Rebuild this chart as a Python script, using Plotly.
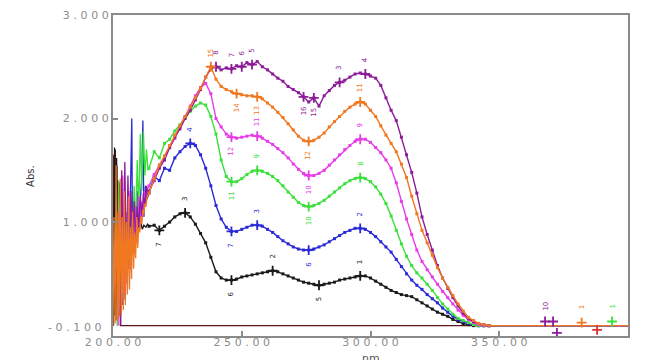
import plotly.graph_objects as go

# ---------------- data ----------------
# common wavelength grid for the smooth part of each spectrum (nm)
WL_BODY = [214, 216, 218, 220, 222, 224, 226, 228, 230, 232,
           234, 236, 238, 240, 242, 244, 246, 248, 250, 252,
           254, 256, 258, 260, 262, 264, 266, 268, 270, 272,
           274, 276, 278, 280, 282, 284, 286, 288, 290, 292,
           294, 296, 298, 300, 302, 304, 306, 308, 310, 312,
           314, 316, 318, 320, 322, 324, 326, 328, 330, 332,
           334, 336, 338, 340, 342, 344, 346]

ABS_BLACK = [0.96, 0.97, 0.92, 0.96, 1.00, 1.05, 1.08, 1.09, 1.05, 0.98,
             0.89, 0.80, 0.66, 0.52, 0.46, 0.44, 0.44, 0.45, 0.47, 0.48,
             0.49, 0.50, 0.51, 0.52, 0.53, 0.52, 0.50, 0.48, 0.46, 0.44,
             0.42, 0.41, 0.40, 0.39, 0.40, 0.41, 0.42, 0.44, 0.45, 0.46,
             0.47, 0.48, 0.48, 0.46, 0.43, 0.40, 0.37, 0.34, 0.32, 0.30,
             0.29, 0.28, 0.25, 0.22, 0.19, 0.16, 0.13, 0.11, 0.09, 0.06,
             0.04, 0.02, 0.01, 0.00, 0.00, 0.00, 0.00]

ABS_BLUE = [1.28, 1.44, 1.40, 1.52, 1.50, 1.62, 1.68, 1.73, 1.76, 1.74,
            1.65, 1.52, 1.35, 1.16, 1.03, 0.95, 0.91, 0.91, 0.93, 0.95,
            0.97, 0.97, 0.96, 0.93, 0.90, 0.86, 0.82, 0.79, 0.76, 0.74,
            0.73, 0.73, 0.74, 0.76, 0.78, 0.81, 0.84, 0.87, 0.90, 0.92,
            0.94, 0.94, 0.93, 0.90, 0.86, 0.81, 0.76, 0.71, 0.64, 0.57,
            0.50, 0.44, 0.39, 0.35, 0.30, 0.26, 0.22, 0.17, 0.13, 0.09,
            0.06, 0.04, 0.02, 0.01, 0.00, 0.00, 0.00]

ABS_GREEN = [1.52, 1.68, 1.62, 1.76, 1.80, 1.88, 1.94, 2.01, 2.07, 2.12,
             2.15, 2.13, 2.02, 1.85, 1.60, 1.44, 1.39, 1.39, 1.42, 1.46,
             1.49, 1.50, 1.49, 1.47, 1.44, 1.40, 1.35, 1.29, 1.24, 1.19,
             1.16, 1.15, 1.16, 1.18, 1.21, 1.25, 1.29, 1.33, 1.37, 1.40,
             1.42, 1.43, 1.42, 1.39, 1.34, 1.27, 1.18, 1.06, 0.92, 0.79,
             0.67, 0.58, 0.51, 0.46, 0.40, 0.34, 0.27, 0.21, 0.16, 0.11,
             0.07, 0.05, 0.03, 0.01, 0.00, 0.00, 0.00]

ABS_MAGENTA = [1.35, 1.46, 1.55, 1.62, 1.72, 1.81, 1.92, 2.02, 2.12, 2.22,
               2.30, 2.34, 2.24, 2.00, 1.92, 1.85, 1.82, 1.81, 1.82, 1.83,
               1.84, 1.83, 1.81, 1.78, 1.75, 1.71, 1.67, 1.62, 1.56, 1.51,
               1.47, 1.45, 1.45, 1.47, 1.50, 1.55, 1.60, 1.65, 1.70, 1.74,
               1.78, 1.80, 1.80, 1.77, 1.72, 1.67, 1.60, 1.52, 1.38, 1.20,
               1.03, 0.88, 0.73, 0.62, 0.54, 0.47, 0.40, 0.33, 0.27, 0.21,
               0.15, 0.10, 0.06, 0.03, 0.01, 0.00, 0.00]

ABS_ORANGE = [1.28, 1.42, 1.55, 1.64, 1.74, 1.84, 1.93, 2.02, 2.11, 2.20,
              2.29, 2.40, 2.50, 2.38, 2.31, 2.28, 2.26, 2.24, 2.23, 2.22,
              2.22, 2.21, 2.19, 2.15, 2.11, 2.06, 2.01, 1.95, 1.89, 1.83,
              1.79, 1.78, 1.79, 1.82, 1.86, 1.92, 1.97, 2.02, 2.07, 2.11,
              2.14, 2.16, 2.14, 2.08, 2.02, 1.93, 1.84, 1.76, 1.68, 1.56,
              1.43, 1.25, 1.08, 0.92, 0.80, 0.68, 0.56, 0.46, 0.37, 0.29,
              0.21, 0.14, 0.08, 0.05, 0.02, 0.01, 0.00]

ABS_PURPLE = [1.30, 1.40, 1.52, 1.60, 1.72, 1.82, 1.90, 2.00, 2.08, 2.18,
              2.28, 2.40, 2.48, 2.50, 2.47, 2.49, 2.48, 2.51, 2.50, 2.54,
              2.52, 2.55, 2.50, 2.47, 2.43, 2.39, 2.36, 2.31, 2.28, 2.25,
              2.21, 2.16, 2.20, 2.12, 2.22, 2.27, 2.32, 2.35, 2.37, 2.40,
              2.43, 2.44, 2.43, 2.41, 2.39, 2.32, 2.20, 2.08, 1.98, 1.82,
              1.65, 1.48, 1.28, 1.05, 0.88, 0.73, 0.58, 0.46, 0.36, 0.27,
              0.19, 0.12, 0.07, 0.04, 0.02, 0.01, 0.00]

# noisy, saturated start of each scan (200-214 nm)
HEAD_BLACK_WL = [200.2, 200.6, 201.0, 201.4, 201.8, 202.4, 203.0, 203.6, 204.2, 204.8,
                 205.4, 206.0, 206.6, 207.2, 207.8, 208.4, 209.0, 209.6, 210.2, 210.8,
                 211.4, 212.0, 212.8, 213.4]
HEAD_BLACK_ABS = [0.00, 1.72, 0.20, 1.62, 0.30, 1.38, 0.40, 1.12, 0.25, 0.90,
                  0.50, 1.20, 0.62, 0.95, 0.80, 1.05, 0.86, 0.98, 0.92, 1.00,
                  0.93, 0.97, 0.95, 0.98]

HEAD_BLUE_WL = [203.8, 204.4, 205.0, 205.6, 206.2, 206.8, 207.3, 207.6, 208.2, 208.8,
                209.4, 210.0, 210.6, 211.2, 211.6, 212.0, 212.6, 213.2]
HEAD_BLUE_ABS = [0.20, 0.95, 0.40, 1.10, 0.55, 1.25, 2.00, 0.70, 1.15, 0.85,
                 1.30, 0.95, 1.20, 1.45, 1.98, 1.05, 1.35, 1.22]

HEAD_GREEN_WL = [201.6, 202.2, 202.8, 203.4, 204.0, 204.6, 205.2, 205.8, 206.4, 207.0,
                 207.6, 208.2, 208.8, 209.4, 210.0, 210.6, 211.2, 211.8, 212.4, 213.0,
                 213.6]
HEAD_GREEN_ABS = [0.00, 1.40, 0.20, 1.35, 0.30, 0.90, 0.45, 1.20, 0.60, 1.05,
                  0.80, 1.35, 0.95, 1.60, 1.10, 1.85, 1.30, 1.88, 1.45, 1.70,
                  1.50]

HEAD_MAGENTA_WL = [202.0, 202.6, 203.2, 203.8, 204.4, 205.0, 205.6, 206.2, 206.8, 207.4,
                   208.0, 208.6, 209.2, 209.8, 210.4, 211.0, 211.6, 212.2, 212.8, 213.4]
HEAD_MAGENTA_ABS = [0.00, 1.20, 0.15, 1.45, 0.30, 1.10, 0.40, 1.30, 0.55, 0.95,
                    0.70, 1.15, 0.80, 1.25, 0.95, 1.20, 1.05, 1.30, 1.18, 1.32]

HEAD_PURPLE_WL = [202.8, 203.4, 204.0, 204.6, 205.2, 205.8, 206.4, 207.0, 207.6, 208.2,
                  208.8, 209.4, 210.0, 210.6, 211.2, 211.8, 212.4, 213.0, 213.6]
HEAD_PURPLE_ABS = [0.00, 1.50, 0.35, 1.58, 0.50, 1.45, 0.60, 1.30, 0.75, 1.20,
                   0.85, 1.15, 0.95, 1.25, 1.05, 1.28, 1.15, 1.35, 1.25]

HEAD_ORANGE_WL = [200.0, 200.4, 200.8, 201.2, 201.6, 202.0, 202.4, 202.8, 203.2, 203.6,
                  204.0, 204.4, 204.8, 205.2, 205.6, 206.0, 206.4, 206.8, 207.2, 207.6,
                  208.0, 208.4, 208.8, 209.2, 209.6, 210.0, 210.4, 210.8, 211.2, 211.6,
                  212.0, 212.4, 212.8, 213.2]
HEAD_ORANGE_ABS = [0.00, 1.05, 0.02, 1.55, 0.05, 1.10, 0.08, 1.42, 0.10, 1.05,
                   0.15, 1.30, 0.20, 1.00, 0.30, 1.25, 0.35, 0.95, 0.45, 1.10,
                   0.55, 0.90, 0.65, 1.05, 0.75, 0.95, 0.90, 1.05, 0.98, 1.12,
                   1.08, 1.18, 1.15, 1.24]

# blank / baseline scan
BASE_WL = [200.0, 200.3, 200.6, 200.9, 201.2, 201.5, 201.8, 202.1, 202.4, 202.7,
           203.0, 204.0, 400.0]
BASE_ABS = [0.00, 1.65, 0.10, 1.70, 0.05, 1.55, 0.20, 1.40, 0.10, 0.90,
            0.00, 0.00, 0.00]

WL_TAIL = [350, 360, 370, 380, 390, 400]
ABS_TAIL = [0.00, 0.00, 0.00, 0.00, 0.00, 0.00]

# peak-pick marks: wavelength, index label, label side
PICK_BLACK = ([218, 228, 246, 262, 280, 296], ["7", "3", "6", "2", "5", "1"], ["b", "a", "b", "a", "b", "a"])
PICK_BLUE = ([230, 246, 256, 276, 296], ["4", "7", "3", "6", "2"], ["a", "b", "a", "b", "a"])
PICK_GREEN = ([246, 256, 276, 296], ["11", "9", "10", "8"], ["b", "a", "b", "a"])
PICK_MAGENTA = ([246, 256, 276, 296], ["12", "11", "10", "9"], ["b", "a", "b", "a"])
PICK_ORANGE = ([238, 248, 256, 276, 296], ["15", "14", "13", "12", "11"], ["a", "b", "b", "b", "a"])
PICK_PURPLE = ([240, 246, 250, 254, 274, 278, 288, 298],
               ["8", "7", "6", "5", "16", "15", "3", "4"],
               ["a", "a", "a", "a", "b", "b", "a", "a"])

# peak-pick marks found on the flat baseline (wavelength, absorbance)
BASE_PICK_WL = [367.8, 370.9, 372.4, 382.0, 388.0, 393.8]
BASE_PICK_ABS = [0.04, 0.04, -0.07, 0.03, -0.04, 0.04]
BASE_PICK_COLOR = ["#8c1c98", "#8c1c98", "#8c1c98", "#f07820", "#e03030", "#3ce03c"]
BASE_PICK_TXT = ["10", "", "", "1", "", "1"]

X_TICKS = [200, 250, 300, 350, 400]
X_TICK_TXT = ["200.00", "250.00", "300.00", "350.00", "400.00"]
Y_TICKS = [-0.1, 1.0, 2.0, 3.0]
Y_TICK_TXT = ["-0.100", "1.000", "2.000", "3.000"]

# ---------------- figure ----------------
SERIES = [
    ("#1a1a1a", HEAD_BLACK_WL, HEAD_BLACK_ABS, ABS_BLACK, PICK_BLACK),
    ("#2a2ad8", HEAD_BLUE_WL, HEAD_BLUE_ABS, ABS_BLUE, PICK_BLUE),
    ("#3ce03c", HEAD_GREEN_WL, HEAD_GREEN_ABS, ABS_GREEN, PICK_GREEN),
    ("#e83ce8", HEAD_MAGENTA_WL, HEAD_MAGENTA_ABS, ABS_MAGENTA, PICK_MAGENTA),
    ("#8c1c98", HEAD_PURPLE_WL, HEAD_PURPLE_ABS, ABS_PURPLE, PICK_PURPLE),
    ("#f07820", HEAD_ORANGE_WL, HEAD_ORANGE_ABS, ABS_ORANGE, PICK_ORANGE),
]

TICK_FONT = dict(family="DejaVu Sans", size=11, color="#8c8c8c")


def spaced(label):
    return "\u2004".join(label)


fig = go.Figure()

fig.add_trace(go.Scatter(x=BASE_WL, y=BASE_ABS, mode="lines",
                         line=dict(color="#5a1818", width=1.4),
                         hoverinfo="skip", showlegend=False))

annotations = []
for color, hx, hy, body, picks in SERIES:
    # noisy start joined to the smooth part
    fig.add_trace(go.Scatter(x=hx + [WL_BODY[0]], y=hy + [body[0]], mode="lines",
                             line=dict(color=color, width=1.3),
                             hoverinfo="skip", showlegend=False))
    fig.add_trace(go.Scatter(x=WL_BODY, y=body, mode="lines+markers",
                             line=dict(color=color, width=1.4),
                             marker=dict(color=color, size=3, symbol="square"),
                             showlegend=False))
    fig.add_trace(go.Scatter(x=[WL_BODY[-1]] + WL_TAIL, y=[body[-1]] + ABS_TAIL, mode="lines",
                             line=dict(color=color, width=1.3),
                             hoverinfo="skip", showlegend=False))
    pw, ptxt, pside = picks
    py = [body[WL_BODY.index(w)] for w in pw]
    fig.add_trace(go.Scatter(x=pw, y=py, mode="markers",
                             marker=dict(symbol="cross-thin", size=7,
                                         line=dict(color=color, width=1.8)),
                             showlegend=False))
    for w, yv, t, s in zip(pw, py, ptxt, pside):
        annotations.append(dict(x=w, y=yv, xref="x", yref="y", text=t, showarrow=False,
                                textangle=-90, yshift=14 if s == "a" else -14,
                                font=dict(family="DejaVu Sans", size=7, color=color)))

fig.add_trace(go.Scatter(x=BASE_PICK_WL, y=BASE_PICK_ABS, mode="markers",
                         marker=dict(symbol="cross-thin", size=7,
                                     line=dict(color=BASE_PICK_COLOR, width=1.8)),
                         showlegend=False))
for w, yv, t, c in zip(BASE_PICK_WL, BASE_PICK_ABS, BASE_PICK_TXT, BASE_PICK_COLOR):
    if t:
        annotations.append(dict(x=w, y=yv, xref="x", yref="y", text=t, showarrow=False,
                                textangle=-90, yshift=15,
                                font=dict(family="DejaVu Sans", size=7, color=c)))

# the lowest y label sits a little above its tick so it clears the x labels
annotations.append(dict(x=0, y=Y_TICKS[0], xref="paper", yref="y",
                        text=spaced(Y_TICK_TXT[0]), showarrow=False,
                        xanchor="right", xshift=-9, yshift=9, font=TICK_FONT))
annotations.append(dict(x=-0.175, y=0.5, xref="paper", yref="paper", text="Abs.",
                        showarrow=False, textangle=-90,
                        font=dict(family="DejaVu Sans", size=10, color="#333333")))
annotations.append(dict(x=0.5, y=-0.069, xref="paper", yref="paper", text="nm",
                        showarrow=False, yanchor="middle",
                        font=dict(family="DejaVu Sans", size=11, color="#555555")))

axis_common = dict(showgrid=False, zeroline=False, showline=True, mirror=True,
                   linecolor="#8a8a8a", linewidth=2, ticks="inside", ticklen=5,
                   tickcolor="#8a8a8a", tickwidth=1.5, automargin=False,
                   tickfont=TICK_FONT)

fig.update_layout(
    width=655, height=360,
    margin=dict(l=113, r=27, t=15, b=24),
    paper_bgcolor="white", plot_bgcolor="white",
    xaxis=dict(range=[200, 400], tickvals=X_TICKS, ticklabelstandoff=-5,
               ticktext=[spaced(s) for s in X_TICK_TXT], **axis_common),
    yaxis=dict(range=[-0.1, 3.0], tickvals=Y_TICKS,
               ticktext=["" if v == Y_TICKS[0] else spaced(s)
                         for v, s in zip(Y_TICKS, Y_TICK_TXT)], **axis_common),
    annotations=annotations,
    showlegend=False,
)

fig.write_html("out.html")
